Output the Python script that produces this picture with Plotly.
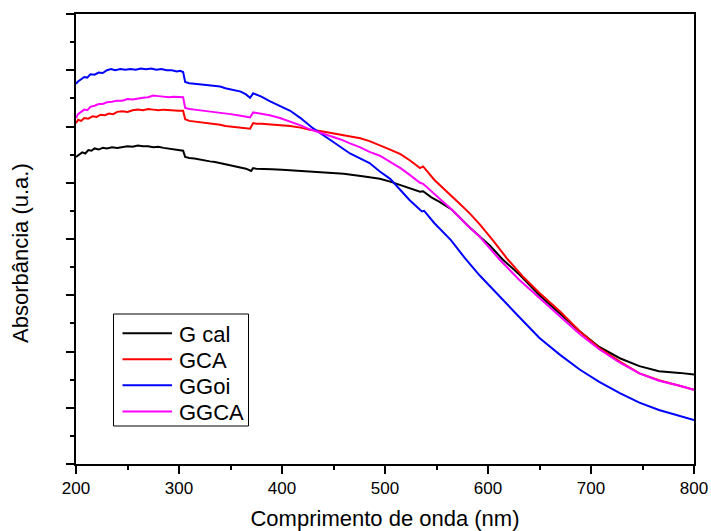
import plotly.graph_objects as go

# ---------------- data (absorbance, arbitrary units) ----------------
wl_gcal = [200, 203, 206, 209, 212, 215, 218, 222, 226, 230, 235, 240, 245, 250, 255, 260, 265, 270,
           275, 280, 285, 290, 295, 300, 304, 306, 310, 315, 320, 325, 330, 335, 340, 345, 350, 355,
           360, 365, 370, 372, 375, 380, 390, 400, 420, 440, 460, 480, 495, 505, 515, 525, 534, 537,
           545, 553, 565, 582, 602, 614, 631, 650, 670, 689, 708, 728, 747, 766, 786, 800]
abs_gcal = [5.46, 5.50, 5.54, 5.52, 5.58, 5.57, 5.61, 5.59, 5.62, 5.61, 5.63, 5.62, 5.64, 5.65, 5.64,
            5.66, 5.65, 5.65, 5.63, 5.64, 5.62, 5.61, 5.60, 5.59, 5.57, 5.46, 5.44, 5.43, 5.41, 5.40,
            5.38, 5.37, 5.35, 5.34, 5.31, 5.30, 5.28, 5.25, 5.21, 5.26, 5.25, 5.25, 5.24, 5.23, 5.21,
            5.19, 5.16, 5.11, 5.07, 5.02, 4.96, 4.90, 4.84, 4.85, 4.74, 4.66, 4.52, 4.21, 3.88, 3.64,
            3.36, 3.00, 2.68, 2.36, 2.08, 1.88, 1.74, 1.65, 1.62, 1.59]

wl_gca = [200, 202, 205, 208, 212, 216, 220, 224, 228, 232, 236, 240, 245, 250, 255, 260, 265, 270,
          275, 280, 285, 290, 295, 300, 304, 306, 310, 315, 320, 325, 330, 335, 340, 345, 350, 355,
          360, 365, 369, 372, 375, 380, 390, 400, 408, 418, 427, 437, 447, 457, 466, 476, 485, 495,
          505, 515, 524, 534, 537, 548, 560, 570, 582, 592, 605, 619, 635, 650, 670, 689, 708, 728,
          747, 766, 786, 800]
abs_gca = [6.06, 6.12, 6.10, 6.15, 6.14, 6.18, 6.17, 6.21, 6.20, 6.23, 6.22, 6.26, 6.27, 6.26, 6.29,
           6.30, 6.29, 6.31, 6.30, 6.29, 6.30, 6.29, 6.29, 6.28, 6.28, 6.13, 6.10, 6.09, 6.08, 6.07,
           6.06, 6.04, 6.03, 6.01, 6.00, 6.00, 5.98, 5.98, 5.96, 6.06, 6.05, 6.05, 6.04, 6.03, 6.01,
           5.98, 5.94, 5.92, 5.89, 5.86, 5.83, 5.79, 5.74, 5.67, 5.59, 5.51, 5.40, 5.26, 5.29, 5.05,
           4.85, 4.67, 4.46, 4.26, 3.97, 3.64, 3.31, 3.04, 2.71, 2.36, 2.06, 1.82, 1.61, 1.49, 1.39,
           1.32]

wl_ggoi = [200, 202, 205, 208, 211, 214, 218, 222, 226, 230, 234, 238, 243, 248, 253, 258, 263, 268,
           273, 278, 283, 288, 293, 298, 301, 304, 306, 310, 315, 320, 325, 330, 335, 340, 345, 350,
           355, 360, 365, 369, 372, 375, 380, 388, 398, 408, 418, 430, 447, 466, 485, 495, 505, 515,
           524, 534, 536, 538, 548, 564, 578, 592, 611, 631, 650, 670, 689, 708, 728, 747, 766, 786,
           800]
abs_ggoi = [6.76, 6.80, 6.84, 6.88, 6.87, 6.93, 6.92, 6.96, 6.95, 7.00, 7.02, 7.00, 7.02, 7.01, 7.02,
            7.01, 7.03, 7.02, 7.03, 7.01, 7.02, 7.00, 7.00, 6.98, 6.99, 6.97, 6.79, 6.77, 6.76, 6.75,
            6.74, 6.73, 6.71, 6.71, 6.68, 6.66, 6.64, 6.62, 6.57, 6.51, 6.59, 6.57, 6.53, 6.45, 6.37,
            6.28, 6.15, 5.97, 5.76, 5.52, 5.35, 5.20, 5.07, 4.88, 4.69, 4.52, 4.49, 4.50, 4.28, 3.98,
            3.65, 3.35, 2.98, 2.60, 2.24, 1.94, 1.68, 1.46, 1.26, 1.09, 0.96, 0.85, 0.78]

wl_ggca = [200, 202, 205, 208, 211, 214, 218, 222, 226, 230, 235, 240, 245, 250, 255, 260, 265, 270,
           275, 280, 285, 290, 295, 300, 304, 306, 310, 315, 320, 330, 340, 350, 360, 369, 372, 375,
           380, 388, 398, 408, 418, 427, 437, 447, 457, 466, 476, 485, 495, 505, 515, 524, 534, 537,
           550, 565, 580, 592, 611, 630, 650, 670, 689, 708, 728, 747, 766, 786, 800]
abs_ggca = [6.15, 6.22, 6.26, 6.30, 6.29, 6.35, 6.37, 6.40, 6.40, 6.43, 6.44, 6.46, 6.46, 6.49, 6.48,
            6.50, 6.51, 6.52, 6.55, 6.54, 6.53, 6.52, 6.53, 6.52, 6.52, 6.33, 6.31, 6.30, 6.29, 6.27,
            6.24, 6.22, 6.19, 6.16, 6.25, 6.24, 6.22, 6.20, 6.15, 6.09, 6.02, 5.95, 5.89, 5.83, 5.77,
            5.70, 5.63, 5.55, 5.48, 5.37, 5.26, 5.14, 5.00, 4.98, 4.76, 4.52, 4.24, 4.04, 3.64, 3.28,
            2.95, 2.62, 2.31, 2.04, 1.80, 1.61, 1.48, 1.39, 1.32]

series_names = ["G cal", "GCA", "GGoi", "GGCA"]
series_colors = ["#000000", "#ff0000", "#0000ff", "#ff00ff"]
series_x = [wl_gcal, wl_gca, wl_ggoi, wl_ggca]
series_y = [abs_gcal, abs_gca, abs_ggoi, abs_ggca]

x_title = "Comprimento de onda (nm)"
y_title = "Absorbância (u.a.)"

# ---------------- geometry (pixels) ----------------
W, H = 711, 531
ML, MR, MT, MB = 76, 17, 14, 67
PW, PH = W - ML - MR, H - MT - MB


def px(xp):
    return (xp - ML) / PW


def py(yp):
    return (H - MB - yp) / PH


# ---------------- figure ----------------
FONT = "Liberation Sans, Arial, sans-serif"
fig = go.Figure()
for name, col, xs, ys in zip(series_names, series_colors, series_x, series_y):
    fig.add_trace(go.Scatter(x=xs, y=ys, mode="lines", name=name, showlegend=False,
                             line=dict(color=col, width=2)))

axis_common = dict(
    showline=True, linewidth=1.5, linecolor="black", mirror=True,
    ticks="outside", ticklen=8, tickwidth=1.5, tickcolor="black",
    showgrid=False, zeroline=False, automargin=False,
)

fig.update_xaxes(
    range=[200, 800], tick0=200, dtick=100,
    tickfont=dict(family=FONT, size=17, color="black"),
    minor=dict(dtick=50, ticks="outside", ticklen=4, tickwidth=1.5, tickcolor="black"),
    title=dict(text=x_title, font=dict(family=FONT, size=22, color="black"), standoff=14),
    **axis_common,
)
fig.update_yaxes(
    range=[0, 8], tick0=0, dtick=1, showticklabels=False,
    minor=dict(dtick=0.5, ticks="outside", ticklen=4, tickwidth=1.5, tickcolor="black"),
    **axis_common,
)

fig.add_annotation(
    text=y_title, textangle=-90, showarrow=False,
    xref="paper", yref="paper", x=px(20.5), y=py(253.5), xanchor="center", yanchor="middle",
    font=dict(family=FONT, size=22, color="black"),
)

# ---------------- manual legend ----------------
shapes = [dict(type="rect", xref="paper", yref="paper",
               x0=px(113.5), x1=px(248.5), y0=py(314), y1=py(426),
               line=dict(color="black", width=1), fillcolor="white", layer="above")]
row_y = [333.3, 359.3, 385.3, 411.5]
for name, col, ry in zip(series_names, series_colors, row_y):
    shapes.append(dict(type="line", xref="paper", yref="paper",
                       x0=px(122.5), x1=px(172), y0=py(ry), y1=py(ry),
                       line=dict(color=col, width=2), layer="above"))
    fig.add_annotation(text=name, showarrow=False, xref="paper", yref="paper",
                       x=px(177), y=py(ry + 1), xanchor="left", yanchor="middle",
                       font=dict(family=FONT, size=22, color="black"))

fig.update_layout(
    width=W, height=H,
    margin=dict(l=ML, r=MR, t=MT, b=MB),
    paper_bgcolor="white", plot_bgcolor="white",
    font=dict(family=FONT, color="black"),
    showlegend=False,
    shapes=shapes,
)

fig.write_html("out.html")
